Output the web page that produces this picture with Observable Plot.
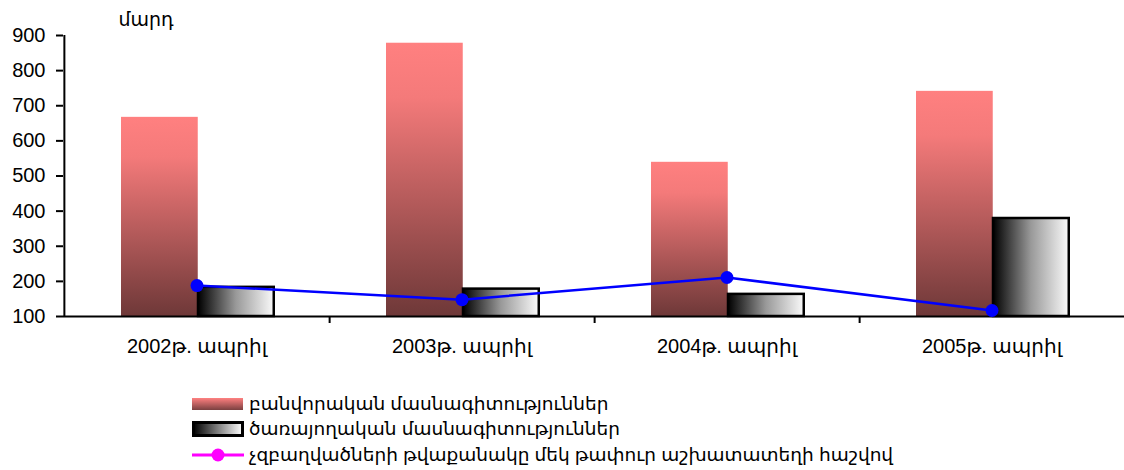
<!DOCTYPE html>
<html><head><meta charset="utf-8">
<script src="https://cdn.jsdelivr.net/npm/d3@7"></script>
<script src="https://cdn.jsdelivr.net/npm/@observablehq/plot@0.6"></script>
<style>
body{margin:0;background:#fff;font-family:"Liberation Sans","DejaVu Sans",Arial,sans-serif;}
#chart{position:absolute;left:0;top:0;}
#legend{position:absolute;left:192px;top:391px;font-size:18.5px;color:#000;}
.row{display:flex;align-items:center;height:25.5px;white-space:nowrap;}
.row svg{margin-right:5px;flex:none;}
</style></head><body>
<div id="chart"></div>
<div id="legend"></div>
<script>
const categories = ["2002թ. ապրիլ","2003թ. ապրիլ","2004թ. ապրիլ","2005թ. ապրիլ"];
const workers = [667, 878, 539, 741];
const services = [183, 178, 163, 379];
const unemployedPerVacancy = [188, 148, 211, 117];
const seriesNames = ["բանվորական մասնագիտություններ","ծառայողական մասնագիտություններ","չզբաղվածների թվաքանակը մեկ թափուր աշխատատեղի հաշվով"];
const yTicks = [100, 200, 300, 400, 500, 600, 700, 800, 900];
const yUnit = "մարդ";

const rows = categories.map((c, i) => ({c, w: workers[i], s: services[i], u: unemployedPerVacancy[i]}));
const W = 1124, ML = 63, MR = 0;
const bw = (W - ML - MR) / categories.length;
const font = '"Liberation Sans","DejaVu Sans",Arial,sans-serif';

const plot = Plot.plot({
  width: W, height: 370, marginLeft: ML, marginRight: MR, marginTop: 35, marginBottom: 54,
  style: {fontFamily: font, fontSize: "20px", color: "#000", background: "#fff", overflow: "visible"},
  x: {domain: categories, paddingInner: 0, paddingOuter: 0, axis: null},
  y: {domain: [100, 900], axis: null},
  marks: [
    Plot.barY(rows, {x: "c", y1: 100, y2: "w", fill: "url(#gradRed)", insetLeft: 57, insetRight: bw - 134}),
    Plot.barY(rows, {x: "c", y1: 100, y2: "s", fill: "url(#gradGray)", stroke: "#000", strokeWidth: 2.5, insetLeft: 134, insetRight: bw - 210}),
    Plot.ruleY([100], {stroke: "#000", strokeWidth: 2}),
    Plot.ruleX([categories[0]], {x: d => d, dx: -bw / 2, stroke: "#000", strokeWidth: 2}),
    Plot.axisY({ticks: yTicks, tickSize: 7, tickPadding: 11, fontSize: 20, strokeWidth: 2, label: null}),
    Plot.axisX({ticks: categories.slice(0, 3), tickSize: 7, tickFormat: () => "", dx: bw / 2, strokeWidth: 2, label: null}),
    Plot.axisX({tickSize: 0, tickPadding: 22, fontSize: 20, label: null}),
    Plot.line(rows, {x: "c", y: "u", stroke: "#0000ff", strokeWidth: 2.5}),
    Plot.dot(rows, {x: "c", y: "u", r: 6.5, fill: "#0000ff", stroke: "none"}),
    Plot.text([yUnit], {frameAnchor: "top-left", dx: 55, dy: -16, textAnchor: "start", lineAnchor: "middle", fontSize: 19})
  ]
});

const defs = `<defs>
<linearGradient id="gradRed" x1="0" y1="0" x2="0" y2="1">
<stop offset="0" stop-color="#ff8080"/><stop offset="0.2" stop-color="#f47a7a"/><stop offset="1" stop-color="#6e3838"/>
</linearGradient>
<linearGradient id="gradGray" x1="0" y1="0" x2="1" y2="0">
<stop offset="0" stop-color="#000"/><stop offset="0.5" stop-color="#999"/><stop offset="1" stop-color="#fafafa"/>
</linearGradient></defs>`;
plot.insertAdjacentHTML("afterbegin", defs);
document.getElementById("chart").appendChild(plot);

const sw = [
  `<svg width="52" height="14"><defs><linearGradient id="lr" x1="0" y1="0" x2="0" y2="1"><stop offset="0" stop-color="#ff8080"/><stop offset="1" stop-color="#7a4040"/></linearGradient></defs><rect x="0" y="1" width="51" height="12" fill="url(#lr)"/></svg>`,
  `<svg width="52" height="16"><defs><linearGradient id="lg" x1="0" y1="0" x2="1" y2="0"><stop offset="0" stop-color="#000"/><stop offset="1" stop-color="#fff"/></linearGradient></defs><rect x="1.5" y="1.5" width="49" height="13" fill="url(#lg)" stroke="#000" stroke-width="3"/></svg>`,
  `<svg width="52" height="16"><line x1="0" y1="8" x2="52" y2="8" stroke="#ff00ff" stroke-width="3"/><circle cx="26" cy="8" r="6.5" fill="#ff00ff"/></svg>`
];
document.getElementById("legend").innerHTML = seriesNames.map((n, i) => `<div class="row">${sw[i]}<span>${n}</span></div>`).join("");
</script>
</body></html>
